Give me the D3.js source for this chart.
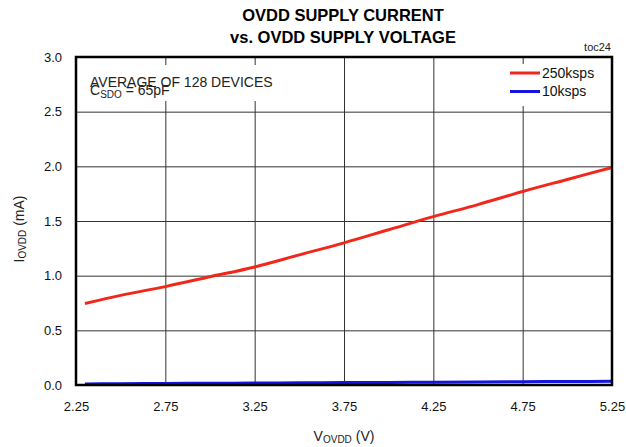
<!DOCTYPE html>
<html>
<head>
<meta charset="utf-8">
<script src="https://cdn.jsdelivr.net/npm/d3@7"></script>
<style>
    html, body { margin: 0; padding: 0; background: #fff; }
    svg { display: block; font-family: 'Liberation Sans', Arial, sans-serif; }
</style>
</head>
<body>
<div id="chart"></div>
<script>
'use strict';

// supply voltage (V) where the curves were read
const voltages = [2.3, 2.5, 2.75, 3.0, 3.25, 3.5, 3.75, 4.0, 4.25, 4.5, 4.75, 5.0, 5.25];
// OVDD current (mA)
const current250k = [0.745, 0.82, 0.90, 0.99, 1.08, 1.19, 1.30, 1.42, 1.54, 1.65, 1.77, 1.88, 1.99];
const current10k = [0.010, 0.012, 0.014, 0.016, 0.018, 0.020, 0.022, 0.024, 0.026, 0.028, 0.030, 0.032, 0.034];

const seriesNames = ['250ksps', '10ksps'];
const xTicks = [2.25, 2.75, 3.25, 3.75, 4.25, 4.75, 5.25];
const yTicks = [0, 0.5, 1.0, 1.5, 2.0, 2.5, 3.0];

function drawChart() {

    const width = 626;
    const height = 447;
    const margin = { top: 57, right: 14, bottom: 62, left: 76 };

    const chartWidth = width - margin.left - margin.right;
    const chartHeight = height - margin.top - margin.bottom;

    const colours = d3.scaleOrdinal()
        .domain(seriesNames)
        .range(['#f0281a', '#1414dc']);

    const data = [
        { name: seriesNames[0], values: voltages.map(function (v, i) { return { v: v, i: current250k[i] }; }) },
        { name: seriesNames[1], values: voltages.map(function (v, i) { return { v: v, i: current10k[i] }; }) }
    ];

    const svg = d3.select('#chart')
        .append('svg')
        .attr('width', width)
        .attr('height', height);

    const chart = svg.append('g')
        .attr('transform', `translate(${margin.left},${margin.top})`);

    // scales
    const xScale = d3.scaleLinear()
        .domain([2.25, 5.25])
        .range([0, chartWidth]);

    const yScale = d3.scaleLinear()
        .domain([0, 3])
        .range([chartHeight, 0]);

    // grid
    const xGrid = d3.axisBottom(xScale)
        .tickValues(xTicks)
        .tickSize(-chartHeight)
        .tickFormat('');

    const yGrid = d3.axisLeft(yScale)
        .tickValues(yTicks)
        .tickSize(-chartWidth)
        .tickFormat('');

    chart.append('g')
        .attr('transform', `translate(0,${chartHeight})`)
        .call(xGrid)
        .call(function (g) { g.select('.domain').remove(); })
        .selectAll('line')
        .attr('stroke', '#333')
        .attr('stroke-width', 1);

    chart.append('g')
        .call(yGrid)
        .call(function (g) { g.select('.domain').remove(); })
        .selectAll('line')
        .attr('stroke', '#333')
        .attr('stroke-width', 1);

    // tick labels
    const xAxis = d3.axisBottom(xScale)
        .tickValues(xTicks)
        .tickSize(0)
        .tickPadding(17)
        .tickFormat(d3.format('.2f'));

    const yAxis = d3.axisLeft(yScale)
        .tickValues(yTicks)
        .tickSize(0)
        .tickPadding(14)
        .tickFormat(d3.format('.1f'));

    chart.append('g')
        .attr('transform', `translate(0,${chartHeight})`)
        .call(xAxis)
        .call(function (g) { g.select('.domain').remove(); })
        .selectAll('text')
        .attr('font-size', 13)
        .attr('font-family', 'Liberation Sans, Arial, sans-serif')
        .attr('fill', '#111');

    chart.append('g')
        .call(yAxis)
        .call(function (g) { g.select('.domain').remove(); })
        .selectAll('text')
        .attr('font-size', 13)
        .attr('font-family', 'Liberation Sans, Arial, sans-serif')
        .attr('fill', '#111');

    // white boxes behind the note and legend
    chart.append('rect')
        .attr('x', 9)
        .attr('y', 8)
        .attr('width', 200)
        .attr('height', 36)
        .attr('fill', '#fff');

    chart.append('rect')
        .attr('x', 430)
        .attr('y', 7)
        .attr('width', 105)
        .attr('height', 42)
        .attr('fill', '#fff');

    // lines
    const lineGen = d3.line()
        .x(function (d) {
            return xScale(d.v);
        })
        .y(function (d) {
            return yScale(d.i);
        })
        .curve(d3.curveMonotoneX);

    chart.selectAll('path.line-path')
        .data(data)
        .join('path')
        .attr('class', 'line-path')
        .attr('fill', 'none')
        .attr('stroke-width', 3)
        .attr('stroke', function (d) {
            return colours(d.name);
        })
        .attr('d', function (d) {
            return lineGen(d.values);
        });

    // border
    chart.append('rect')
        .attr('width', chartWidth)
        .attr('height', chartHeight)
        .attr('fill', 'none')
        .attr('stroke', '#000')
        .attr('stroke-width', 2.5);

    // note text (the two lines overlap in the original too)
    chart.append('text')
        .attr('x', 14)
        .attr('y', 30)
        .attr('font-size', 14)
        .attr('fill', '#222')
        .text('AVERAGE OF 128 DEVICES');

    const cText = chart.append('text')
        .attr('x', 14)
        .attr('y', 38)
        .attr('font-size', 14)
        .attr('fill', '#222');
    cText.append('tspan').text('C');
    cText.append('tspan').attr('font-size', 10).attr('dy', 3).text('SDO');
    cText.append('tspan').attr('dy', -3).text(' = 65pF');

    // legend
    const legend = chart.selectAll('g.legend-item')
        .data(seriesNames)
        .join('g')
        .attr('class', 'legend-item')
        .attr('transform', function (d, i) {
            return `translate(434,${16 + i * 18.5})`;
        });

    legend.append('line')
        .attr('x1', 0)
        .attr('x2', 30)
        .attr('stroke-width', 3)
        .attr('stroke', function (d) {
            return colours(d);
        });

    legend.append('text')
        .attr('x', 32)
        .attr('dy', '0.35em')
        .attr('font-size', 14)
        .attr('fill', '#111')
        .text(function (d) {
            return d;
        });

    // title
    svg.append('text')
        .attr('x', 343)
        .attr('y', 21)
        .attr('text-anchor', 'middle')
        .attr('font-size', 16.5)
        .attr('font-weight', 700)
        .attr('fill', '#000')
        .text('OVDD SUPPLY CURRENT');

    svg.append('text')
        .attr('x', 343)
        .attr('y', 43)
        .attr('text-anchor', 'middle')
        .attr('font-size', 16.5)
        .attr('font-weight', 700)
        .attr('fill', '#000')
        .text('vs. OVDD SUPPLY VOLTAGE');

    svg.append('text')
        .attr('x', 611)
        .attr('y', 51)
        .attr('text-anchor', 'end')
        .attr('font-size', 11)
        .attr('fill', '#222')
        .text('toc24');

    // axis labels
    const xLabel = svg.append('text')
        .attr('x', margin.left + chartWidth / 2)
        .attr('y', 441)
        .attr('text-anchor', 'middle')
        .attr('font-size', 14)
        .attr('fill', '#222');
    xLabel.append('tspan').text('V');
    xLabel.append('tspan').attr('font-size', 10).attr('dy', 2).text('OVDD');
    xLabel.append('tspan').attr('dy', -2).text(' (V)');

    const yLabel = svg.append('text')
        .attr('transform', `translate(24,${margin.top + chartHeight / 2 + 8}) rotate(-90)`)
        .attr('text-anchor', 'middle')
        .attr('font-size', 14)
        .attr('fill', '#222');
    yLabel.append('tspan').text('I');
    yLabel.append('tspan').attr('font-size', 10).attr('dy', 2).text('OVDD');
    yLabel.append('tspan').attr('dy', -2).text(' (mA)');
}

drawChart();
</script>
</body>
</html>
